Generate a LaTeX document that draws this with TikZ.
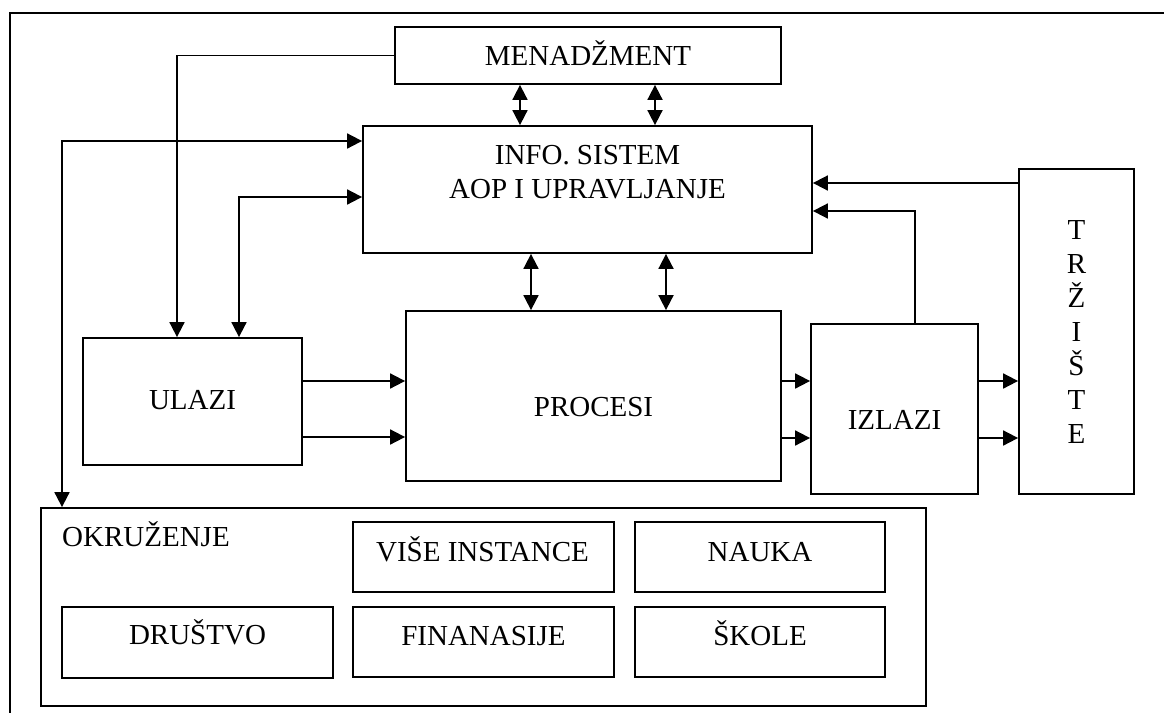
\documentclass[tikz,border=0pt]{standalone}
\usepackage{fontspec}
\setmainfont{Liberation Serif}
\usetikzlibrary{arrows.meta}
\begin{document}
\begin{tikzpicture}[x=1pt,y=-1pt,
  box/.style={draw,line width=1.8pt,rectangle,inner sep=0pt},
  txt/.style={inner sep=0pt,font=\fontsize{29}{34}\selectfont},
  lbl/.style={txt,text height=19pt,text depth=0pt},
  link/.style={line width=1.8pt,-{Triangle[length=15pt,width=15pt]}},
  twoway/.style={line width=1.8pt,{Triangle[length=15pt,width=15pt]}-{Triangle[length=15pt,width=15pt]}},
]
\useasboundingbox (0,0) rectangle (1164,712);
% page frame, open towards the right and bottom edges
\draw[line width=2.2pt] (1170,13) -| (10,720);

% main blocks
\node[box,minimum width=386pt,minimum height=57pt] (men) at (588,55.5) {};
\node[box,minimum width=449pt,minimum height=127pt] (info) at (587.5,189.5) {};
\node[box,minimum width=219pt,minimum height=127pt] (ulazi) at (192.5,401.5) {};
\node[box,minimum width=375pt,minimum height=170pt] (procesi) at (593.5,396) {};
\node[box,minimum width=167pt,minimum height=170pt] (izlazi) at (894.5,409) {};
\node[box,minimum width=115pt,minimum height=325pt] (trz) at (1076.5,331.5) {};

% environment with its members
\node[box,minimum width=885pt,minimum height=198pt] (okr) at (483.5,607) {};
\node[box,minimum width=261pt,minimum height=70pt] (vise) at (483.5,557) {};
\node[box,minimum width=250pt,minimum height=70pt] (nauka) at (760,557) {};
\node[box,minimum width=261pt,minimum height=70pt] (fin) at (483.5,642) {};
\node[box,minimum width=250pt,minimum height=70pt] (skole) at (760,642) {};
\node[box,minimum width=271pt,minimum height=71pt] (drus) at (197.5,642.5) {};

% texts
\node[lbl] (menT) at (588,56) {MENADŽMENT};
\node[txt,align=center] (infoT) at (587.5,172) {INFO. SISTEM\\AOP I UPRAVLJANJE};
\node[lbl] (ulaziT) at (192.5,400) {ULAZI};
\node[lbl] (procesiT) at (593.5,407) {PROCESI};
\node[lbl] (izlaziT) at (894.5,420) {IZLAZI};
\node[txt,align=center] (trzT) at (1076.5,332) {T\\R\\Ž\\I\\Š\\T\\E};
\node[lbl,anchor=west] (okrT) at (62,537) {OKRUŽENJE};
\node[lbl] (viseT) at (482.5,551.5) {VIŠE INSTANCE};
\node[lbl] (naukaT) at (760,551.5) {NAUKA};
\node[lbl] (finT) at (483.5,636) {FINANASIJE};
\node[lbl] (skoleT) at (760,636) {ŠKOLE};
\node[lbl] (drusT) at (197.5,635) {DRUŠTVO};

% management to inputs
\draw[link] (men.west) -| (177,0 |- ulazi.north);
% information system links
\draw[twoway] (62,0 |- okr.north) |- (info.west |- 0,141);
\draw[twoway] (239,0 |- ulazi.north) |- (info.west |- 0,197);
\draw[twoway] (520,0 |- men.south) -- (520,0 |- info.north);
\draw[twoway] (655,0 |- men.south) -- (655,0 |- info.north);
\draw[twoway] (531,0 |- info.south) -- (531,0 |- procesi.north);
\draw[twoway] (666,0 |- info.south) -- (666,0 |- procesi.north);
% flow inputs -> processes -> outputs -> market
\draw[link] (ulazi.east |- 0,381) -- (procesi.west |- 0,381);
\draw[link] (ulazi.east |- 0,437) -- (procesi.west |- 0,437);
\draw[link] (procesi.east |- 0,381) -- (izlazi.west |- 0,381);
\draw[link] (procesi.east |- 0,438) -- (izlazi.west |- 0,438);
\draw[link] (izlazi.east |- 0,381) -- (trz.west |- 0,381);
\draw[link] (izlazi.east |- 0,438) -- (trz.west |- 0,438);
% feedback to the information system
\draw[link] (trz.west |- 0,183) -- (info.east |- 0,183);
\draw[link] (915,0 |- izlazi.north) |- (info.east |- 0,211);
\end{tikzpicture}
\end{document}
